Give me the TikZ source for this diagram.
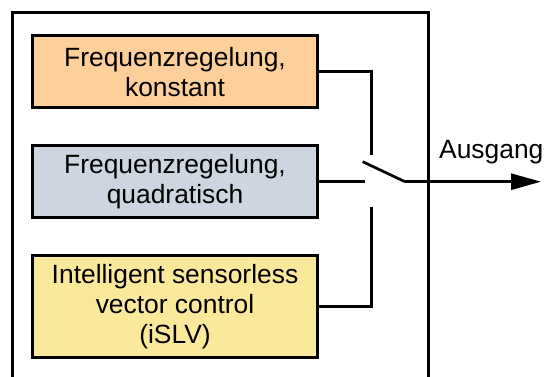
\documentclass[tikz,border=0pt]{standalone}
\usepackage{fontspec}
\setmainfont{Liberation Sans}
\usetikzlibrary{arrows.meta}
\definecolor{cOrange}{RGB}{253,208,155}
\definecolor{cGrey}{RGB}{204,213,224}
\definecolor{cYellow}{RGB}{250,233,155}
\tikzset{
  blockbox/.style={draw=black, line width=3pt, minimum width=285pt, inner sep=0pt, align=center,
    font=\fontsize{26.4}{30}\selectfont, text=black},
  frameline/.style={line width=3pt},
  conn/.style={line width=2.7pt},
  lbl/.style={inner sep=0pt, font=\fontsize{26.4}{30}\selectfont}
}
\begin{document}
\begin{tikzpicture}[x=1pt,y=1pt]
\useasboundingbox (0,0) rectangle (554,-376);
\begin{scope}
\clip (0,0) rectangle (554,-376);
\draw[frameline] (12.5,-380) -- (12.5,-12.5) -- (428.6,-12.5) -- (428.6,-380);
\end{scope}
\node[blockbox, fill=cOrange, minimum height=71.7pt] (b1) at (175,-71.7) {Frequenzregelung,\\konstant};
\node[blockbox, fill=cGrey, minimum height=72pt] (b2) at (175,-181.7) {Frequenzregelung,\\quadratisch};
\node[blockbox, fill=cYellow, minimum height=102pt] (b3) at (175,-306.5) {Intelligent sensorless\\vector control\\(iSLV)};
\coordinate (ct) at (371.7,-155);
\coordinate (cb) at (371.7,-206.7);
\coordinate (cm) at (365,-181.7);
\coordinate (bs) at (362.7,-161.7);
\coordinate (pv) at (405,-181.7);
\coordinate (out) at (541,-181.7);
\draw[conn] (b1.east) -| (ct);
\draw[conn] (b3.east) -| (cb);
\draw[conn] (b2.east) -- (cm);
\draw[conn] (bs) -- (pv);
\draw[conn, -{Triangle[length=30pt,width=16pt]}] (pv) -- (out);
\node[lbl, anchor=base west] (aus) at (439,-158) {Ausgang};
\end{tikzpicture}
\end{document}
